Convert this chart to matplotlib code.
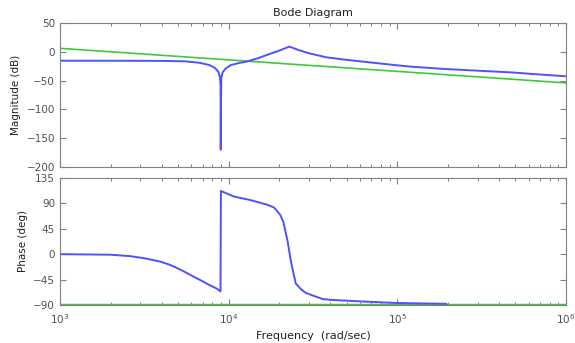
import numpy as np
import matplotlib
matplotlib.use("Agg")
import matplotlib.pyplot as plt
from matplotlib.ticker import LogLocator, NullFormatter, FixedLocator

# ---- data ----
mag_w = [1e3, 2e3, 4e3, 5.5e3, 6.7e3, 7.7e3, 8.3e3, 8.7e3, 8.9e3, 8.96e3, 8.98e3,
         9.0e3, 9.05e3, 9.2e3, 9.6e3, 1.03e4, 1.15e4, 1.28e4, 1.5e4, 1.68e4, 1.95e4,
         2.29e4, 2.6e4, 3.0e4, 3.8e4, 5.0e4, 7.2e4, 1.0e5, 1.23e5, 1.95e5, 3.1e5,
         4.9e5, 6.3e5, 1.0e6]
mag_db = [-15.5, -15.5, -15.8, -16.5, -19, -23, -28, -35, -45, -60, -170,
          -100, -45, -36, -29, -23, -19.5, -17, -11, -5.6, 1,
          9, 3, -2.6, -9.6, -14, -19, -23.5, -26, -30, -33,
          -36, -38.5, -42.5]

green_w = [1e3, 1e4, 1e5, 1e6]
green_db = [6, -14, -34, -54]

ph_w = [1e3, 2e3, 2.6e3, 3.2e3, 3.9e3, 4.4e3, 4.9e3, 5.5e3, 6.2e3, 6.8e3, 7.4e3,
        7.9e3, 8.5e3, 8.95e3,
        9.0e3, 1.08e4, 1.34e4, 1.68e4, 1.85e4, 1.93e4, 2.02e4, 2.11e4, 2.24e4,
        2.34e4, 2.5e4, 2.7e4, 2.88e4, 3.6e4, 4.0e4, 6.3e4, 1.0e5, 1.95e5]
ph_deg = [0, -1, -3.5, -7.5, -13, -18, -24, -31.5, -40, -46, -52,
          -56.5, -61, -66,
          112, 102, 96, 88, 83, 77, 70, 57.5, 22,
          -13, -52, -63, -69, -79.5, -81, -84, -86.6, -88]

green_ph_w = [1e3, 1e6]
green_ph = [-90, -90]

mag_ticks = [50, 0, -50, -100, -150, -200]
ph_ticks = [135, 90, 45, 0, -45, -90]

blue = '#5050ff'
green = '#3fc83f'
gray = '#808080'
txt = '#505050'

fig = plt.figure(figsize=(5.75, 3.43), dpi=100)
ax1 = fig.add_axes([0.1043, 0.513, 0.880, 0.420])
ax2 = fig.add_axes([0.1043, 0.111, 0.880, 0.370])

for ax in (ax1, ax2):
    ax.set_xscale('log')
    ax.set_xlim(1e3, 1e6)
    ax.tick_params(which='both', direction='in', top=True, right=True,
                   colors=gray, labelcolor=txt, labelsize=7.5)
    ax.tick_params(which='major', length=4, width=0.8)
    ax.tick_params(which='minor', length=2, width=0.7)
    ax.xaxis.set_minor_locator(LogLocator(base=10, subs=np.arange(2, 10)))
    ax.xaxis.set_minor_formatter(NullFormatter())
    for s in ax.spines.values():
        s.set_color(gray)
        s.set_linewidth(0.8)

ax1.plot(green_w, green_db, color=green, lw=1.2)
ax1.plot(mag_w, mag_db, color=blue, lw=1.4)
ax1.set_ylim(-200, 50)
ax1.yaxis.set_major_locator(FixedLocator(mag_ticks))
ax1.tick_params(labelbottom=False)
ax1.set_ylabel('Magnitude (dB)', fontsize=7.5, color='#202020')
ax1.set_title('Bode Diagram', fontsize=8, color='#202020', pad=5)

ax2.plot(green_ph_w, green_ph, color=green, lw=2.5)
ax2.plot(ph_w, ph_deg, color=blue, lw=1.4)
ax2.set_ylim(-90, 135)
ax2.yaxis.set_major_locator(FixedLocator(ph_ticks))
ax2.set_ylabel('Phase (deg)', fontsize=7.5, color='#202020')
ax2.set_xlabel('Frequency  (rad/sec)', fontsize=8, color='#202020')
ax2.tick_params(axis='x', pad=5)

fig.savefig('out.png', dpi=100)
